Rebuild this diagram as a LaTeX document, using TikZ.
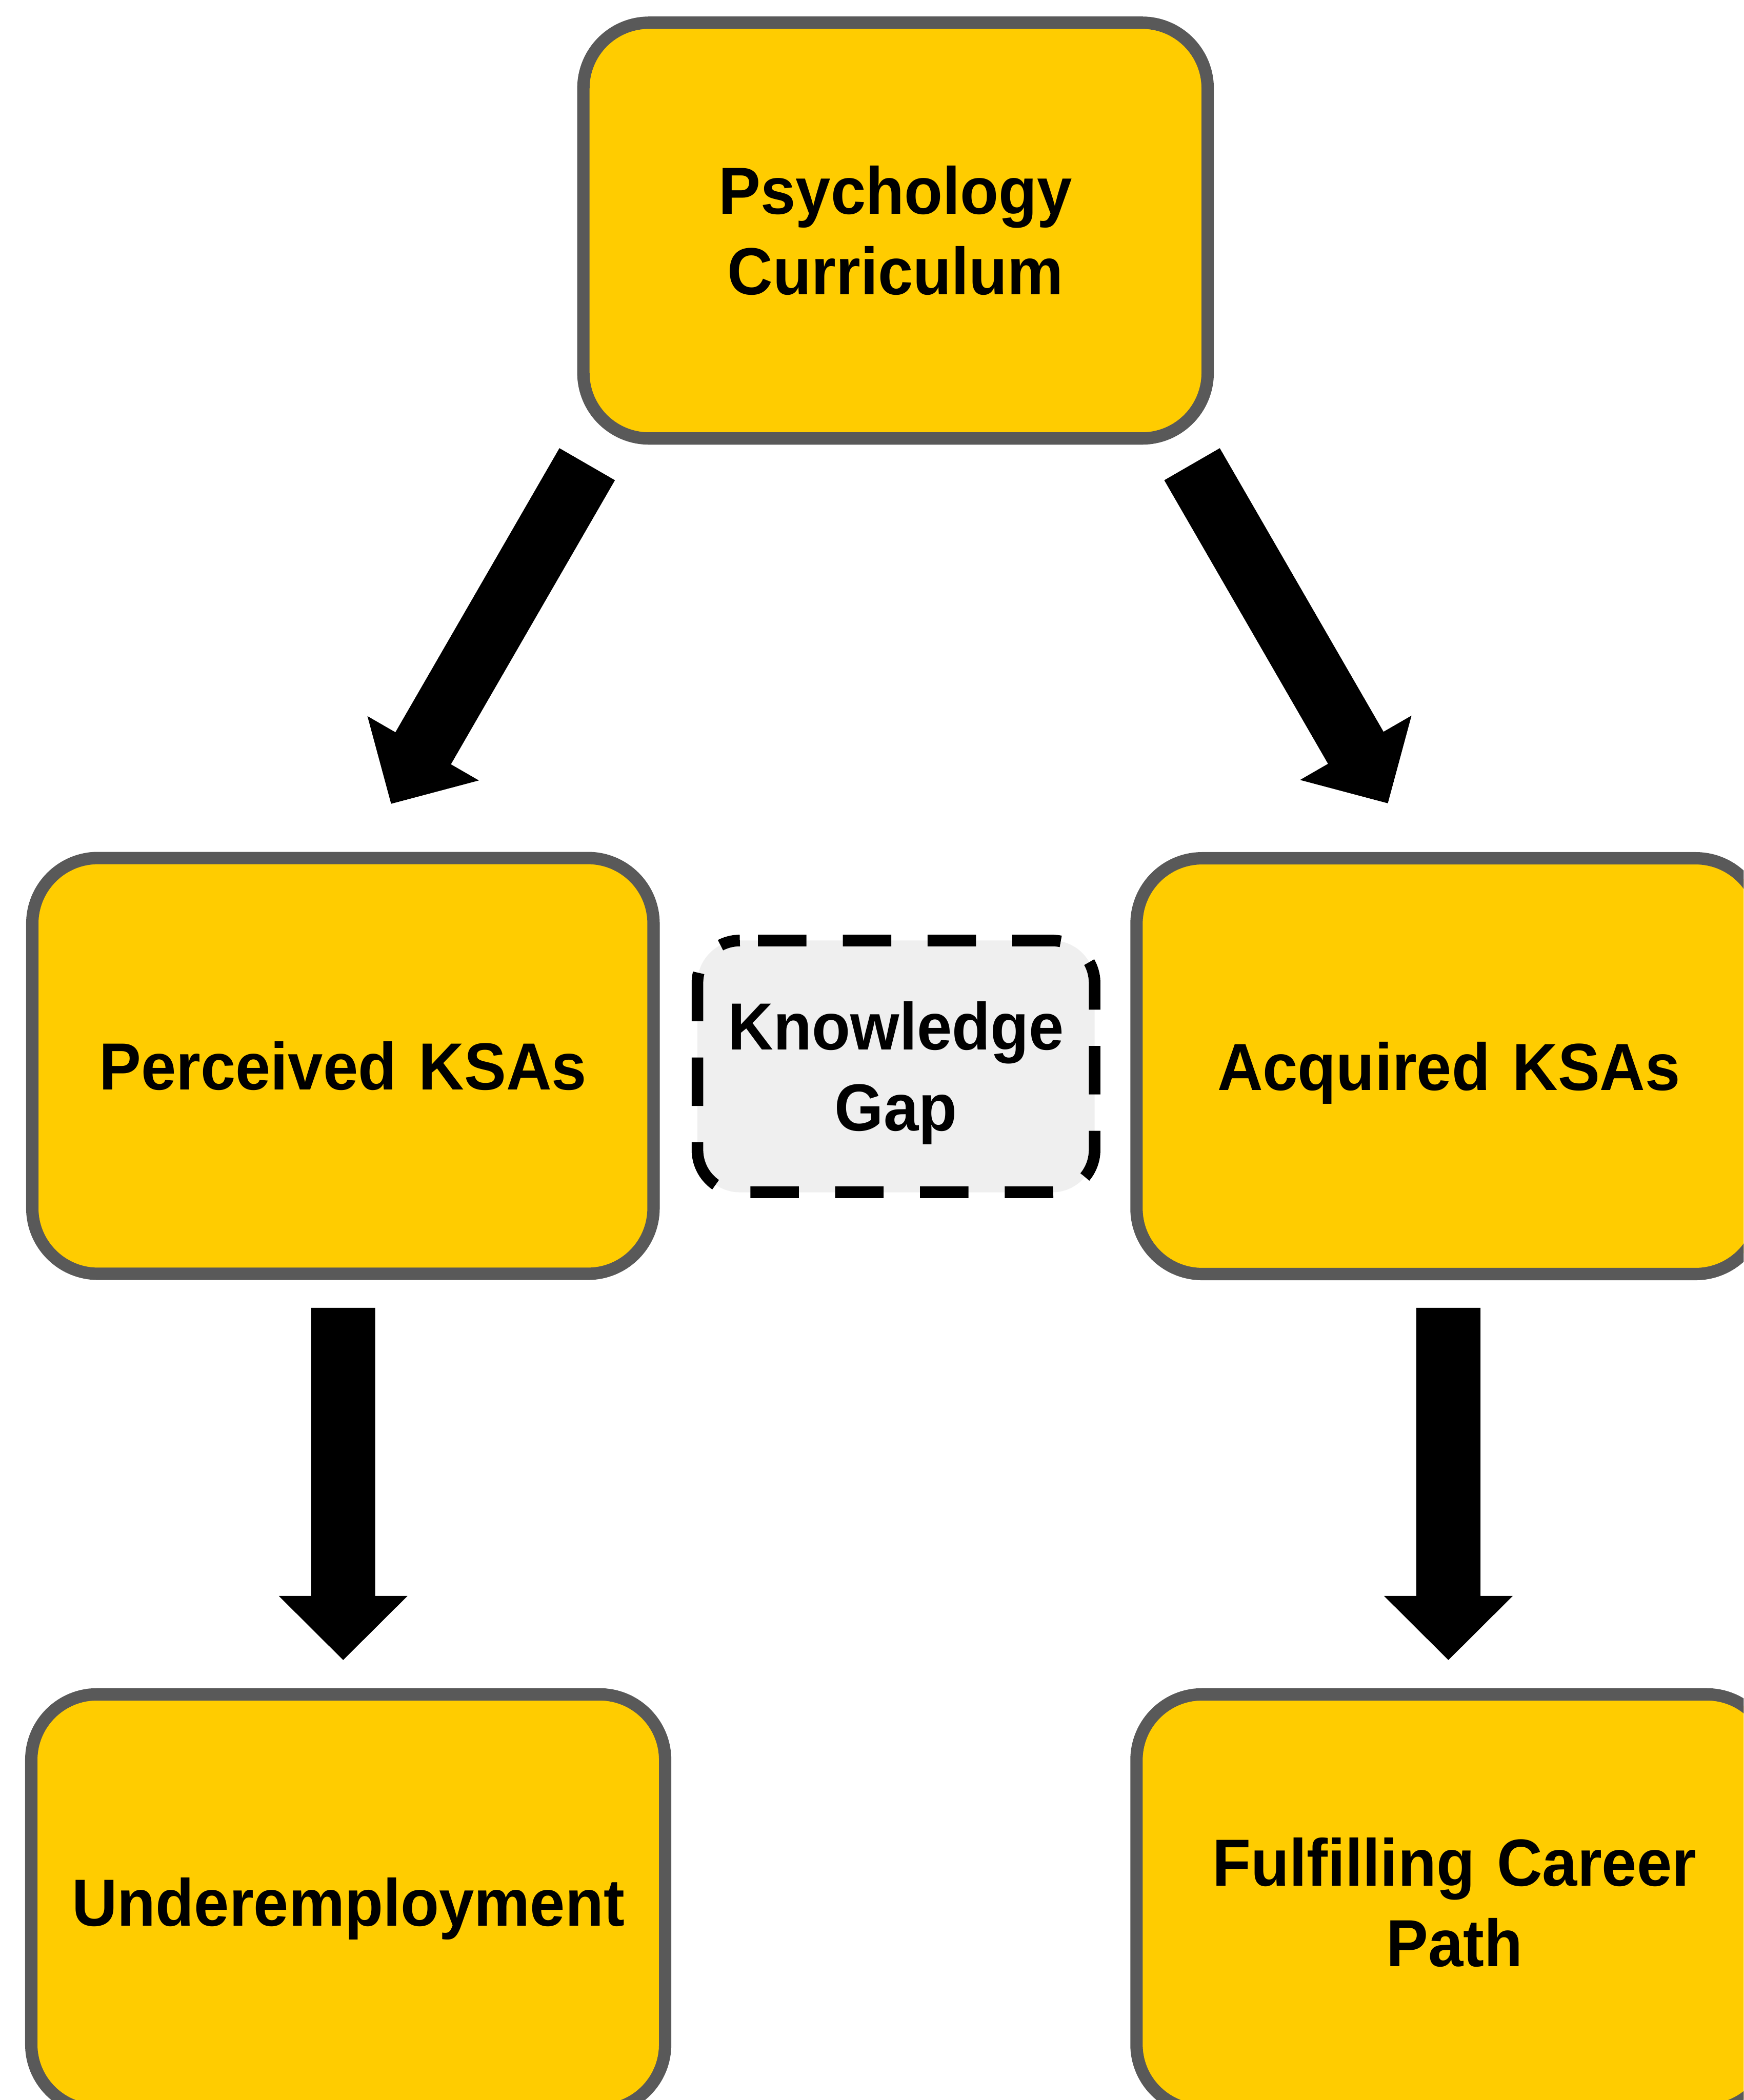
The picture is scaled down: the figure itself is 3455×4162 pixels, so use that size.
\documentclass[tikz,border=0pt]{standalone}
\usepackage{fontspec}
\setmainfont{Liberation Sans}[FakeStretch=0.945]
\usetikzlibrary{calc}
\definecolor{boxfill}{HTML}{FFCC00}
\definecolor{boxline}{HTML}{595959}
\definecolor{gapfill}{HTML}{EFEFEF}
\newcommand{\lblfont}{\bfseries\fontsize{37.56pt}{45.52pt}\selectfont}
\newcommand{\blockarrow}[2]{%
  \coordinate (ab) at ($(#2)!12.7mm!(#1)$);
  \fill[arrowbody] ($(#1)!6.35mm!90:(#2)$) -- ($(ab)!6.35mm!90:(#2)$)
    -- ($(ab)!12.75mm!90:(#2)$) -- (#2) -- ($(ab)!12.75mm!-90:(#2)$)
    -- ($(ab)!6.35mm!-90:(#2)$) -- ($(#1)!6.35mm!-90:(#2)$) -- cycle;}
\begin{document}
\begin{tikzpicture}[x=0.1mm,y=-0.1mm,
  box/.style={draw=boxline, fill=boxfill, line width=2.45mm, rounded corners=13mm,
    minimum height=82.4mm, inner sep=0pt, outer sep=0pt, align=center,
    text width=118mm, font=\lblfont},
  lblone/.style={text height=26.9pt, text depth=0pt},
  lbltwo/.style={text height=26.9pt, text depth=45.52pt},
  gapbox/.style={fill=gapfill, rounded corners=8.4mm, minimum width=78.7mm,
    minimum height=49.9mm, inner sep=0pt, outer sep=0pt, align=center,
    text width=74mm, font=\lblfont, text height=26.9pt, text depth=45.52pt},
  gapdash/.style={draw=black, line width=2.3mm, rounded corners=8.4mm,
    dash pattern=on 9.6mm off 7.2mm, dash phase=13.2mm},
  arrowbody/.style={fill=black}]
\useasboundingbox (0,0) rectangle (3455,4162);
\clip (0,0) rectangle (3455,4162);
\fill[white] (0,0) rectangle (3455,4162);

\node[box, lbltwo, minimum width=123.7mm] (curr) at (1774.5,457) {Psychology\\Curriculum};
\node[box, lblone, minimum width=123.1mm] (perc) at (679.5,2112.5) {Perceived KSAs};
\node[box, lblone, minimum width=123.8mm] (acq) at (2871,2113) {Acquired KSAs};
\node[box, lblone, minimum width=125.6mm] (under) at (690,3770) {Underemployment};
\node[box, lbltwo, minimum width=126mm] (career) at (2882,3770) {Fulfilling Career\\Path};
\node[gapbox] (gap) at (1775.5,2113.5) {Knowledge\\Gap};
\draw[gapdash] (gap.north west) -- (gap.north east) -- (gap.south east)
  -- (gap.south west) -- cycle;

\coordinate (a1s) at (1163.5,920);
\coordinate (a1e) at (775,1593);
\coordinate (a2s) at (2362,920);
\coordinate (a2e) at (2750,1592);
\coordinate (a3s) at (680,2592);
\coordinate (a3e) at (680,3290);
\coordinate (a4s) at (2870,2592);
\coordinate (a4e) at (2870,3290);
\blockarrow{a1s}{a1e}
\blockarrow{a2s}{a2e}
\blockarrow{a3s}{a3e}
\blockarrow{a4s}{a4e}
\end{tikzpicture}
\end{document}
